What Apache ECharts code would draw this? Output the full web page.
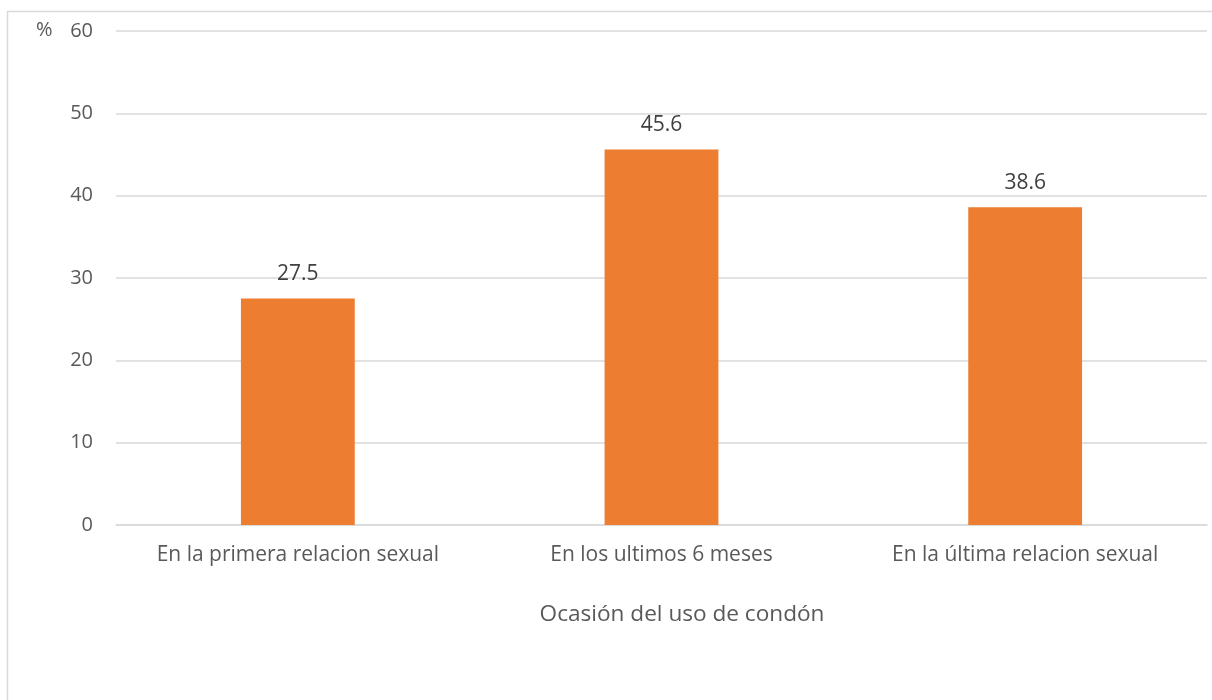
<!DOCTYPE html>
<html><head><meta charset="utf-8">
<script src="https://cdn.jsdelivr.net/npm/echarts@6/dist/echarts.min.js"></script>
<style>html,body{margin:0;padding:0;background:#fff}#c{width:1212px;height:700px}</style>
</head><body><div id="c"></div>
<script>
const categories = ['En la primera relacion sexual', 'En los ultimos 6 meses', 'En la última relacion sexual'];
const values = [27.5, 45.6, 38.6];
const xAxisTitle = 'Ocasión del uso de condón';
const yAxisUnit = '%';

const chart = echarts.init(document.getElementById('c'));
const font = '"Open Sans", "Noto Sans", sans-serif';
chart.setOption({
  animation: false,
  textStyle: { fontFamily: font },
  title: {
    text: xAxisTitle, left: 677, top: 598, textAlign: 'center',
    textStyle: { color: '#595959', fontSize: 22.6, fontWeight: 'normal', fontFamily: font }
  },
  graphic: [
    { type: 'rect', shape: { x: 7.5, y: 11.5, width: 1220, height: 700 }, style: { fill: 'none', stroke: '#d9d9d9', lineWidth: 1.5 }, silent: true },
    { type: 'text', left: 36, top: 20, style: { text: yAxisUnit, fill: '#595959', font: '20px ' + font } }
  ],
  grid: { left: 116, right: 5, top: 31, bottom: 175, containLabel: false },
  xAxis: {
    type: 'category', data: categories,
    axisLine: { lineStyle: { color: '#d9d9d9', width: 1.5 } },
    axisTick: { show: false },
    axisLabel: { color: '#595959', fontSize: 21, margin: 20, interval: 0, hideOverlap: false, fontFamily: font }
  },
  yAxis: {
    type: 'value', min: 0, max: 60, interval: 10,
    axisLine: { show: false }, axisTick: { show: false },
    axisLabel: { color: '#595959', fontSize: 20, margin: 23, fontFamily: font },
    splitLine: { lineStyle: { color: '#d9d9d9', width: 1.5 } }
  },
  series: [{
    type: 'bar', data: values, barWidth: '31.3%',
    itemStyle: { color: '#ED7D31' },
    label: { show: true, position: 'top', distance: 14, color: '#404040', fontSize: 21, fontFamily: font }
  }]
});
</script></body></html>
